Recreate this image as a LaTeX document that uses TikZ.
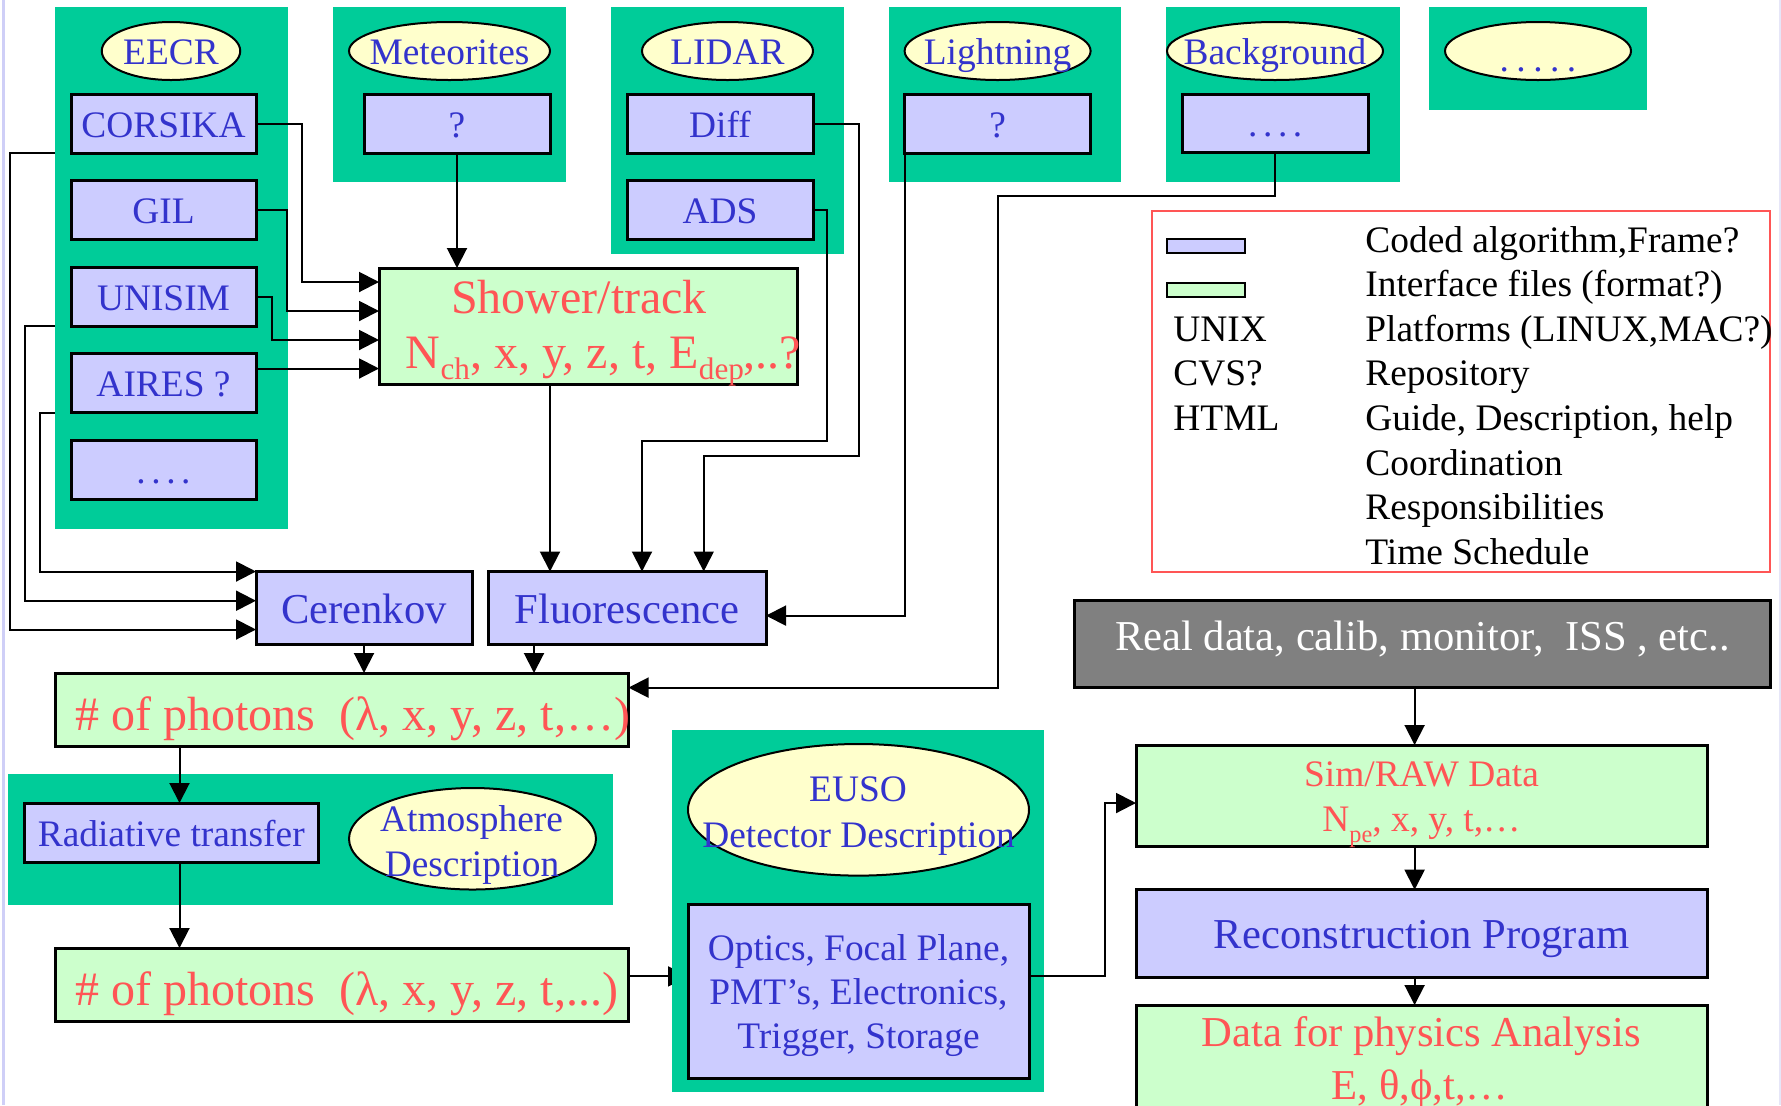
\documentclass[tikz,border=0pt]{standalone}
\usepackage{fontspec}
\setmainfont{Liberation Serif}
\usetikzlibrary{arrows.meta,shapes.geometric}

\definecolor{panelgreen}{HTML}{00CC99}
\definecolor{algofill}{HTML}{CCCCFF}
\definecolor{ifacefill}{HTML}{CCFFCC}
\definecolor{srcfill}{HTML}{FFFFCC}
\definecolor{inkblue}{HTML}{3333CC}
\definecolor{inkred}{HTML}{FF5555}
\definecolor{datagray}{HTML}{808080}
\definecolor{edgelav}{HTML}{CFCFF7}
\definecolor{edgelavlight}{HTML}{E6E6F8}

\pgfdeclarelayer{back}
\pgfsetlayers{back,main}

\newcommand\szbase{\fontsize{18.7pt}{22pt}\selectfont}
\newcommand\szmid{\fontsize{21.3pt}{25pt}\selectfont}
\newcommand\szbig{\fontsize{24pt}{28pt}\selectfont}
\newcommand\lowsub[2][-0.23em]{\raisebox{#1}{\scalebox{0.65}{#2}}}

\tikzset{
  panel/.style={rectangle, fill=panelgreen, inner sep=0pt, outer sep=0pt},
  boxbase/.style={rectangle, draw=black, line width=1.5pt, inner sep=0pt, outer sep=0pt},
  algo/.style={boxbase, fill=algofill, text=inkblue, font=\szbase, text height=17.8pt, text depth=4.3pt},
  algomid/.style={boxbase, fill=algofill, text=inkblue, font=\szmid, text height=20pt, text depth=4.6pt},
  iface/.style={boxbase, fill=ifacefill},
  source/.style={ellipse, draw=black, line width=1pt, fill=srcfill, inner sep=0pt, outer sep=0pt},
  srclabel/.style={text=inkblue, font=\szbase, inner sep=0pt, text height=17.8pt, text depth=4.3pt},
  bluetext/.style={text=inkblue, font=\szbase, inner sep=0pt, anchor=base},
  redtext/.style={text=inkred, inner sep=0pt, anchor=base},
  legtext/.style={text=black, font=\szbase, inner sep=0pt, anchor=base west},
  link/.style={line width=1pt, -{Triangle[length=10pt,width=10pt]}},
}

\begin{document}
\begin{tikzpicture}[x=0.5pt,y=-0.5pt]
\useasboundingbox (0,0) rectangle (1781,1105);
\clip (0,0) rectangle (1781,1105);

\begin{pgfonlayer}{back}
  \fill[white] (0,0) rectangle (1781,1105);
  \fill[edgelav] (1.5,0) rectangle (5,1105);
  \fill[edgelavlight] (1778.5,0) rectangle (1781,1105);
\end{pgfonlayer}

% ---------- group panels ----------
\node[panel, minimum width=116.55pt, minimum height=260.8pt] (eecrpanel) at (171.05,267.8) {};
\node[panel, minimum width=116.3pt, minimum height=87.5pt] (metpanel) at (449.3,94.5) {};
\node[panel, minimum width=116.65pt, minimum height=123.5pt] (lidarpanel) at (727.35,130.5) {};
\node[panel, minimum width=116pt, minimum height=87.5pt] (lightpanel) at (1005,94.5) {};
\node[panel, minimum width=116.75pt, minimum height=87.5pt] (bgpanel) at (1282.75,94.5) {};
\node[panel, minimum width=109pt, minimum height=51.25pt] (morepanel) at (1538,58.25) {};
\node[panel, minimum width=302.25pt, minimum height=65.5pt] (radpanel) at (310.25,839.5) {};
\node[panel, minimum width=186pt, minimum height=181pt] (eusopanel) at (858,911) {};

% ---------- sources (ellipses) ----------
\node[source, minimum width=69.25pt, minimum height=29pt] (eecr) at (171,51) {};
\node[srclabel] (eecrt) at (eecr) {EECR};
\node[source, minimum width=100.5pt, minimum height=29pt] (met) at (449.5,51) {};
\node[srclabel] (mett) at (met) {Meteorites};
\node[source, minimum width=85.5pt, minimum height=29pt] (lidar) at (727.5,51) {};
\node[srclabel] (lidart) at (lidar) {LIDAR};
\node[source, minimum width=93pt, minimum height=29pt] (light) at (997.6,51) {};
\node[srclabel] (lightt) at (light) {Lightning};
\node[source, minimum width=108pt, minimum height=29pt] (bg) at (1275,51) {};
\node[srclabel] (bgt) at (bg) {Background};
\node[source, minimum width=93pt, minimum height=29pt] (more) at (1538,51) {};
\node[srclabel, yshift=-3.5pt] (moret) at (more) {.\hspace{0.2em}.\hspace{0.2em}.\hspace{0.2em}.\hspace{0.2em}.};

% ---------- coded algorithms ----------
\node[algo, minimum width=92.5pt, minimum height=29.5pt] (corsika) at (163.5,123.5) {CORSIKA};
\node[algo, minimum width=92.5pt, minimum height=29.5pt] (gil) at (163.5,210) {GIL};
\node[algo, minimum width=92.5pt, minimum height=29.5pt] (unisim) at (163.5,296.5) {UNISIM};
\node[algo, minimum width=92.5pt, minimum height=29.5pt] (aires) at (163.5,383) {AIRES ?};
\node[algo, minimum width=92.5pt, minimum height=29.5pt] (eecrmore) at (163.5,469.5) {.\hspace{0.15em}.\hspace{0.15em}.\hspace{0.15em}.};
\node[algo, minimum width=93pt, minimum height=29.5pt] (metq) at (457,123.5) {?};
\node[algo, minimum width=93pt, minimum height=29.5pt] (diff) at (720,123.5) {Diff};
\node[algo, minimum width=93pt, minimum height=29.5pt] (ads) at (720,210) {ADS};
\node[algo, minimum width=93pt, minimum height=29.5pt] (lightq) at (997.6,123.5) {?};
\node[algo, minimum width=93.25pt, minimum height=29pt] (bgq) at (1275.25,123) {.\hspace{0.15em}.\hspace{0.15em}.\hspace{0.15em}.};

% ---------- shower / track ----------
\node[iface, minimum width=209pt, minimum height=58pt] (shower) at (588,326) {};
\node[redtext, font=\szbig] (showert1) at (579,313) {Shower/track};
\node[redtext, font=\szbig] (showert2) at (603.6,368) {N\lowsub{ch}, x, y, z, t, E\lowsub{dep},..?};

% ---------- light production ----------
\node[algomid, minimum width=108pt, minimum height=36.25pt] (ceren) at (364,607.75) {Cerenkov};
\node[algomid, minimum width=139pt, minimum height=36.25pt] (fluor) at (627,607.75) {Fluorescence};

\node[iface, minimum width=286.75pt, minimum height=36.5pt] (phot1) at (341.75,709.5) {};
\node[redtext, font=\szbig, anchor=base west] (phot1t) at (75,730) {\#\ of photons\ \ (λ, x, y, z, t,…)};

\node[algo, minimum width=146.75pt, minimum height=29.5pt] (radbox) at (171.25,832.5) {Radiative transfer};
\node[source, minimum width=123.5pt, minimum height=50.75pt] (atmo) at (472.5,838.75) {};
\node[bluetext] (atmot1) at (471.6,831) {Atmosphere};
\node[bluetext] (atmot2) at (472,876) {Description};

\node[iface, minimum width=286.75pt, minimum height=36.5pt] (phot2) at (341.75,984.5) {};
\node[redtext, font=\szbig, anchor=base west] (phot2t) at (75,1005) {\#\ of photons\ \ (λ, x, y, z, t,...)};

% ---------- detector ----------
\node[source, minimum width=170.5pt, minimum height=65.8pt] (euso) at (858.5,809.8) {};
\node[bluetext] (eusot1) at (858,801) {EUSO};
\node[bluetext] (eusot2) at (858.6,847) {Detector Description};
\node[boxbase, fill=algofill, minimum width=170.5pt, minimum height=87pt] (optics) at (858.5,991) {};
\node[bluetext] (opticst1) at (858.5,960) {Optics, Focal Plane,};
\node[bluetext] (opticst2) at (858.5,1004.5) {PMT’s, Electronics,};
\node[bluetext] (opticst3) at (858.5,1048.5) {Trigger, Storage};

% ---------- data chain ----------
\node[boxbase, fill=datagray, text=white, font=\szmid, text height=17pt, text depth=11.3pt,
      minimum width=347.65pt, minimum height=43.5pt] (real) at (1422.35,644.3)
      {Real data, calib, monitor,\ \ ISS , etc..};
\node[iface, minimum width=285.5pt, minimum height=50.75pt] (sim) at (1421.5,795.75) {};
\node[redtext, font=\szbase] (simt1) at (1421.5,786) {Sim/RAW Data};
\node[redtext, font=\szbase] (simt2) at (1421.5,831) {N\lowsub[-0.3em]{pe}, x, y, t,…};
\node[algomid, minimum width=285.5pt, minimum height=43.85pt] (recon) at (1421.5,933.55) {Reconstruction Program};
\node[iface, minimum width=285.5pt, minimum height=58.5pt] (phys) at (1421.5,1063.5) {};
\node[redtext, font=\szmid] (physt1) at (1421.4,1046) {Data for physics Analysis};
\node[redtext, font=\szmid] (physt2) at (1420,1099) {E, θ,ϕ,t,…};

% ---------- legend ----------
\node[rectangle, draw=inkred, line width=1pt, inner sep=0pt, outer sep=0pt,
      minimum width=309.25pt, minimum height=180.5pt] (legend) at (1460.75,391) {};
\node[boxbase, fill=algofill, line width=1pt, minimum width=39pt, minimum height=7pt] (keyalgo) at (1206,246) {};
\node[boxbase, fill=ifacefill, line width=1pt, minimum width=39pt, minimum height=7pt] (keyiface) at (1206,289.5) {};
\node[legtext] (keyunix) at (1173,341.3) {UNIX};
\node[legtext] (keycvs) at (1173,385.9) {CVS?};
\node[legtext] (keyhtml) at (1173,430.6) {HTML};
\node[legtext] (leg1) at (1365,252) {Coded algorithm,Frame?};
\node[legtext] (leg2) at (1365,296.6) {Interface files (format?)};
\node[legtext] (leg3) at (1365,341.3) {Platforms (LINUX,MAC?)};
\node[legtext] (leg4) at (1365,385.9) {Repository};
\node[legtext] (leg5) at (1365,430.6) {Guide, Description, help};
\node[legtext] (leg6) at (1365,475.2) {Coordination};
\node[legtext] (leg7) at (1365,519.8) {Responsibilities};
\node[legtext] (leg8) at (1365,564.5) {Time Schedule};

% ---------- connectors ----------
\draw[link] (corsika.east) -| (302,282) -- (shower.west |- 0,282);
\draw[link] (gil.east) -| (287,311) -- (shower.west |- 0,311);
\draw[link] (unisim.east) -| (272,340) -- (shower.west |- 0,340);
\draw[link] (aires.east |- 0,368.5) -- (shower.west |- 0,368.5);
\draw[link] (metq.south) -- (shower.north -| metq.south);

\draw[link] (shower.south -| 550,0) -- (fluor.north -| 550,0);
\draw[link] (ads.east) -| (827,441) -| (fluor.north -| 642,0);
\draw[link] (diff.east) -| (858.7,456) -| (fluor.north -| 703.7,0);
\draw[link] (lightq.south west) |- (fluor.east |- 0,615.6);
\draw[link] (bgq.south) |- (997.5,196) |- (phot1.east |- 0,687.6);

\draw[link] (eecrpanel.west |- 0,153) -| (9.6,629.5) -- (ceren.west |- 0,629.5);
\draw[link] (eecrpanel.west |- 0,326) -| (24.9,600.7) -- (ceren.west |- 0,600.7);
\draw[link] (eecrpanel.west |- 0,413) -| (40.2,571.5) -- (ceren.west |- 0,571.5);

\draw[link] (ceren.south) -- (ceren.south |- phot1.north);
\draw[link] (fluor.south -| 534,0) -- (phot1.north -| 534,0);
\draw[link] (phot1.south -| 179.5,0) -- (radbox.north -| 179.5,0);
\draw[link] (radbox.south -| 179.5,0) -- (phot2.north -| 179.5,0);
\begin{pgfonlayer}{back}
  \draw[link] (phot2.east |- 0,976.4) -- (optics.west |- 0,976.4);
\end{pgfonlayer}
\draw[link] (optics.east |- 0,976.4) -| (1105.4,803) -- (sim.west |- 0,803);

\draw[link] (real.south -| 1414.6,0) -- (sim.north -| 1414.6,0);
\draw[link] (sim.south -| 1414.6,0) -- (recon.north -| 1414.6,0);
\draw[link] (recon.south -| 1414.6,0) -- (phys.north -| 1414.6,0);
\end{tikzpicture}
\end{document}
